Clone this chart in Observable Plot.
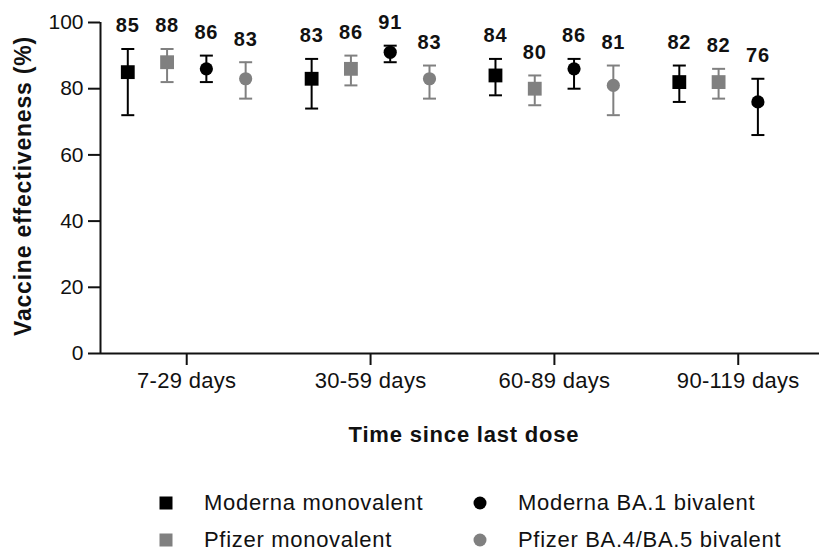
<!DOCTYPE html>
<html>
<head>
<meta charset="utf-8">
<script src="https://cdn.jsdelivr.net/npm/d3@7"></script>
<script src="https://cdn.jsdelivr.net/npm/@observablehq/plot@0.6"></script>
<style>
  body { margin: 0; background: #fff; font-family: "Liberation Sans", Arial, sans-serif; }
  #chart { width: 819px; }
  #chart svg { display: block; overflow: visible; font-family: "Liberation Sans", Arial, sans-serif; }
  g[aria-label="text"] text { letter-spacing: 0.8px; }
  g[aria-label="y-axis tick label"] { font-size: 21px; }
  g[aria-label="x-axis tick label"] { font-size: 22px; }
  g[aria-label="x-axis tick label"] text { letter-spacing: 0.3px; }
  .legend { position: relative; width: 819px; height: 97px; color: #111; }
  .item { position: absolute; display: flex; align-items: center; font-size: 22px; letter-spacing: 0.7px; white-space: nowrap; }
  .item svg { margin-right: 31px; }
</style>
</head>
<body>
<div id="chart"></div>
<div class="legend" id="legend"></div>
<script>
const categories = ["7-29 days", "30-59 days", "60-89 days", "90-119 days"];
const seriesNames = ["Moderna monovalent", "Pfizer monovalent", "Moderna BA.1 bivalent", "Pfizer BA.4/BA.5 bivalent"];
const seriesShapes = ["square", "square", "circle", "circle"];
const seriesColors = ["#000000", "#808080", "#000000", "#808080"];

const modernaMonoVE = [85, 83, 84, 82];
const modernaMonoLo = [72, 74, 78, 76];
const modernaMonoHi = [92, 89, 89, 87];

const pfizerMonoVE = [88, 86, 80, 82];
const pfizerMonoLo = [82, 81, 75, 77];
const pfizerMonoHi = [92, 90, 84, 86];

const modernaBA1VE = [86, 91, 86, 76];
const modernaBA1Lo = [82, 88, 80, 66];
const modernaBA1Hi = [90, 93, 89, 83];

const pfizerBA45VE = [83, 83, 81, null];
const pfizerBA45Lo = [77, 77, 72, null];
const pfizerBA45Hi = [88, 87, 87, null];

const yTicks = [0, 20, 40, 60, 80, 100];

const ve = [modernaMonoVE, pfizerMonoVE, modernaBA1VE, pfizerBA45VE];
const lo = [modernaMonoLo, pfizerMonoLo, modernaBA1Lo, pfizerBA45Lo];
const hi = [modernaMonoHi, pfizerMonoHi, modernaBA1Hi, pfizerBA45Hi];

const groupSpacing = 0.2137;
const rows = [];
seriesNames.forEach((s, j) => {
  categories.forEach((c, i) => {
    if (ve[j][i] == null) return;
    rows.push({
      series: s, category: c,
      x: i + (j - 1.5) * groupSpacing,
      ve: ve[j][i], lo: lo[j][i], hi: hi[j][i],
      color: seriesColors[j], shape: seriesShapes[j]
    });
  });
});

const xDomain = [-0.469, 3.442];
const cap = { draw(ctx) { ctx.moveTo(-6.5, 0); ctx.lineTo(6.5, 0); } };

const plot = Plot.plot({
  width: 819,
  height: 460,
  marginLeft: 100,
  marginRight: 0,
  marginTop: 22,
  marginBottom: 107,
  style: { fontFamily: "'Liberation Sans', Arial, sans-serif", color: "#111", background: "#fff" },
  x: { domain: xDomain },
  y: { domain: [0, 100] },
  color: { type: "identity" },
  marks: [
    Plot.axisY({ ticks: yTicks, tickSize: 12, tickPadding: 5, fontSize: 21, strokeWidth: 2, label: null }),
    Plot.axisX({ ticks: [0, 1, 2, 3], tickFormat: i => categories[i], tickSize: 12, tickPadding: 7, fontSize: 22, strokeWidth: 2, label: null }),
    Plot.ruleY([0], { strokeWidth: 2 }),
    Plot.ruleX([xDomain[0]], { strokeWidth: 2 }),
    Plot.ruleX(rows, { x: "x", y1: "lo", y2: "hi", stroke: "color", strokeWidth: 2 }),
    Plot.dot(rows, { x: "x", y: "lo", symbol: cap, stroke: "color", strokeWidth: 2, fill: "none" }),
    Plot.dot(rows, { x: "x", y: "hi", symbol: cap, stroke: "color", strokeWidth: 2, fill: "none" }),
    Plot.dot(rows.filter(d => d.shape === "square"), { x: "x", y: "ve", symbol: "square", r: 7.8, fill: "color", stroke: null }),
    Plot.dot(rows.filter(d => d.shape === "circle"), { x: "x", y: "ve", symbol: "circle", r: 6.6, fill: "color", stroke: null }),
    Plot.text(rows, { x: "x", y: "hi", text: d => String(d.ve), dy: -23, fontSize: 20, fontWeight: "bold", lineAnchor: "middle", fill: "#111" }),
    Plot.text(["Vaccine effectiveness (%)"], { text: d => d, frameAnchor: "left", textAnchor: "middle", dx: -77, dy: -2, rotate: -90, fontSize: 23, fontWeight: "bold", lineAnchor: "middle", fill: "#111" }),
    Plot.text(["Time since last dose"], { text: d => d, frameAnchor: "bottom", textAnchor: "middle", dx: 4, dy: 81, fontSize: 22, fontWeight: "bold", lineAnchor: "middle", fill: "#111" })
  ]
});
document.getElementById("chart").appendChild(plot);

// legend
const legendPos = [
  { left: 159, top: 43 }, { left: 159, top: 80 },
  { left: 473, top: 43 }, { left: 473, top: 80 }
];
const legend = document.getElementById("legend");
seriesNames.forEach((name, j) => {
  const pos = legendPos[j];
  const item = document.createElement("div");
  item.className = "item";
  item.style.left = pos.left + "px";
  item.style.top = (pos.top - 14) + "px";
  item.style.height = "28px";
  const shape = seriesShapes[j] === "square"
    ? `<rect x="0.5" y="0.5" width="13" height="13" fill="${seriesColors[j]}"/>`
    : `<circle cx="7" cy="7" r="6.5" fill="${seriesColors[j]}"/>`;
  item.innerHTML = `<svg width="14" height="14">${shape}</svg><span>${name}</span>`;
  legend.appendChild(item);
});
</script>
</body>
</html>
